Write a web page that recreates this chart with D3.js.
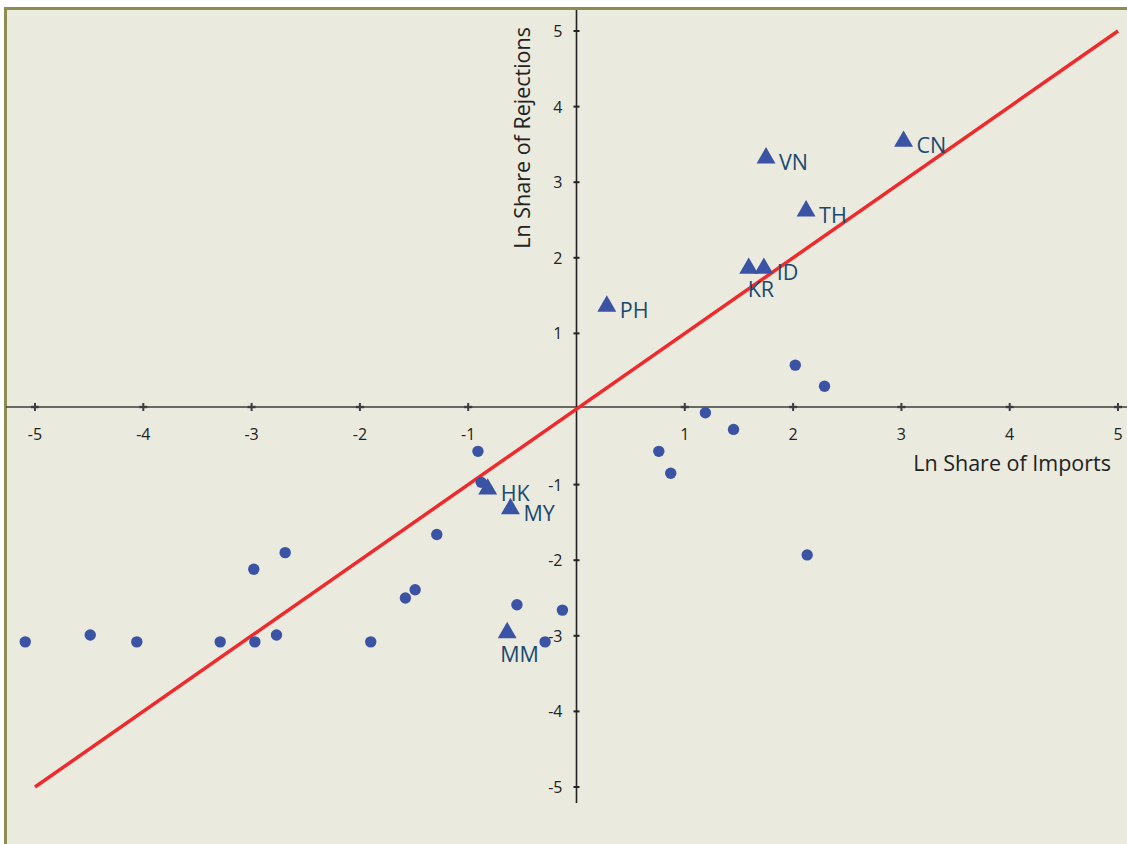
<!DOCTYPE html>
<html>
<head>
<meta charset="utf-8">
<script src="https://cdn.jsdelivr.net/npm/d3@7"></script>
<style>
  body { margin: 0; background: #fff; }
  text { font-family: "Open Sans", "Noto Sans", sans-serif; }
</style>
</head>
<body>
<div id="chart-area"></div>
<script>
// data
let dotX = [-5.09, -4.49, -4.06, -3.29, -2.97, -2.77, -2.98, -2.69, -1.90, -1.58, -1.49, -1.29,
            -0.91, -0.88, -0.55, -0.13, -0.29, 1.19, 1.45, 0.76, 0.87, 2.13, 2.02, 2.29];
let dotY = [-3.08, -2.99, -3.08, -3.08, -3.08, -2.99, -2.12, -1.90, -3.08, -2.50, -2.39, -1.66,
            -0.56, -0.97, -2.59, -2.66, -3.08, -0.05, -0.27, -0.56, -0.85, -1.93, 0.58, 0.30];

let triCodes = ["CN", "VN", "TH", "ID", "KR", "PH", "HK", "MY", "MM"];
let triX = [3.02, 1.75, 2.12, 1.73, 1.59, 0.28, -0.82, -0.61, -0.64];
let triY = [3.54, 3.32, 2.62, 1.86, 1.86, 1.36, -1.06, -1.32, -2.96];

let tickVals = [-5, -4, -3, -2, -1, 1, 2, 3, 4, 5];
let fitLine = [[-5, -5], [5, 5]];

// Variable
let w = 1127;
let h = 844;

let svg = d3.select("#chart-area")
    .append("svg")
    .attr("width", w)
    .attr("height", h);

// frame + background
svg.append("rect")
    .attr("x", 5.5).attr("y", 8.5)
    .attr("width", w + 10).attr("height", h + 10)
    .attr("fill", "#ebeadf")
    .attr("stroke", "#8c8e50")
    .attr("stroke-width", 3);

// scales
let x = d3.scaleLinear().domain([-5, 5]).range([35, 1118]);
let y = d3.scaleLinear().domain([-5, 5]).range([787, 31]);

// x axis through y = 0
let xAxis = svg.append("g")
    .attr("transform", "translate(0," + (y(0) - 2) + ")");
xAxis.append("line")
    .attr("x1", 6).attr("x2", w)
    .attr("stroke", "#3d3d3d").attr("stroke-width", 1.6);
xAxis.selectAll("line.tick")
    .data(tickVals).enter()
    .append("line").attr("class", "tick")
    .attr("x1", d => x(d)).attr("x2", d => x(d))
    .attr("y1", -4).attr("y2", 4)
    .attr("stroke", "#3d3d3d").attr("stroke-width", 2);
xAxis.selectAll("line.tick2")
    .data(tickVals).enter()
    .append("line").attr("class", "tick2")
    .attr("x1", d => x(d) - 4).attr("x2", d => x(d) + 4)
    .attr("y1", 0).attr("y2", 0)
    .attr("stroke", "#3d3d3d").attr("stroke-width", 2.4);
xAxis.selectAll("text")
    .data(tickVals).enter()
    .append("text")
    .text(d => d)
    .attr("x", d => x(d))
    .attr("y", 33)
    .attr("text-anchor", "middle")
    .attr("font-size", 16)
    .attr("fill", "#222");

// y axis through x = 0
let yAxis = svg.append("g")
    .attr("transform", "translate(" + x(0) + ",0)");
yAxis.append("line")
    .attr("y1", 10).attr("y2", 803)
    .attr("stroke", "#222").attr("stroke-width", 1.6);
yAxis.selectAll("line.tick")
    .data(tickVals).enter()
    .append("line").attr("class", "tick")
    .attr("x1", -3).attr("x2", 3)
    .attr("y1", d => y(d)).attr("y2", d => y(d))
    .attr("stroke", "#222").attr("stroke-width", 2);
yAxis.selectAll("text")
    .data(tickVals).enter()
    .append("text")
    .text(d => d)
    .attr("x", -14)
    .attr("y", d => y(d) + 6)
    .attr("text-anchor", "end")
    .attr("font-size", 16)
    .attr("fill", "#222");

// axis titles
svg.append("text")
    .text("Ln Share of Imports")
    .attr("x", 1111).attr("y", 471)
    .attr("text-anchor", "end")
    .attr("font-size", 21.5)
    .attr("fill", "#222");
svg.append("text")
    .text("Ln Share of Rejections")
    .attr("transform", "translate(530,27) rotate(-90)")
    .attr("text-anchor", "end")
    .attr("font-size", 21.5)
    .attr("fill", "#222");

// red fit line
svg.append("line")
    .attr("x1", x(fitLine[0][0])).attr("y1", y(fitLine[0][1]))
    .attr("x2", x(fitLine[1][0])).attr("y2", y(fitLine[1][1]))
    .attr("stroke", "#ee2a2c").attr("stroke-width", 3.5);

// dots
svg.selectAll("circle")
    .data(dotX).enter()
    .append("circle")
    .attr("cx", d => x(d))
    .attr("cy", (d, i) => y(dotY[i]))
    .attr("r", 5.7)
    .attr("fill", "#3a53a4");

// triangles
let tri = d3.symbol().type(d3.symbolTriangle).size(155);
svg.selectAll("path.tri")
    .data(triCodes).enter()
    .append("path").attr("class", "tri")
    .attr("d", tri)
    .attr("transform", (d, i) => "translate(" + x(triX[i]) + "," + y(triY[i]) + ")")
    .attr("fill", "#3a53a4");

// labels (KR and MM sit under their marker)
svg.selectAll("text.lab")
    .data(triCodes).enter()
    .append("text").attr("class", "lab")
    .text(d => d)
    .attr("x", (d, i) => x(triX[i]) + (d == "KR" ? -1 : d == "MM" ? -7 : 13))
    .attr("y", (d, i) => y(triY[i]) + (d == "KR" || d == "MM" ? 29 : 12))
    .attr("font-size", 21.5)
    .attr("fill", "#1a4a70");
</script>
</body>
</html>
